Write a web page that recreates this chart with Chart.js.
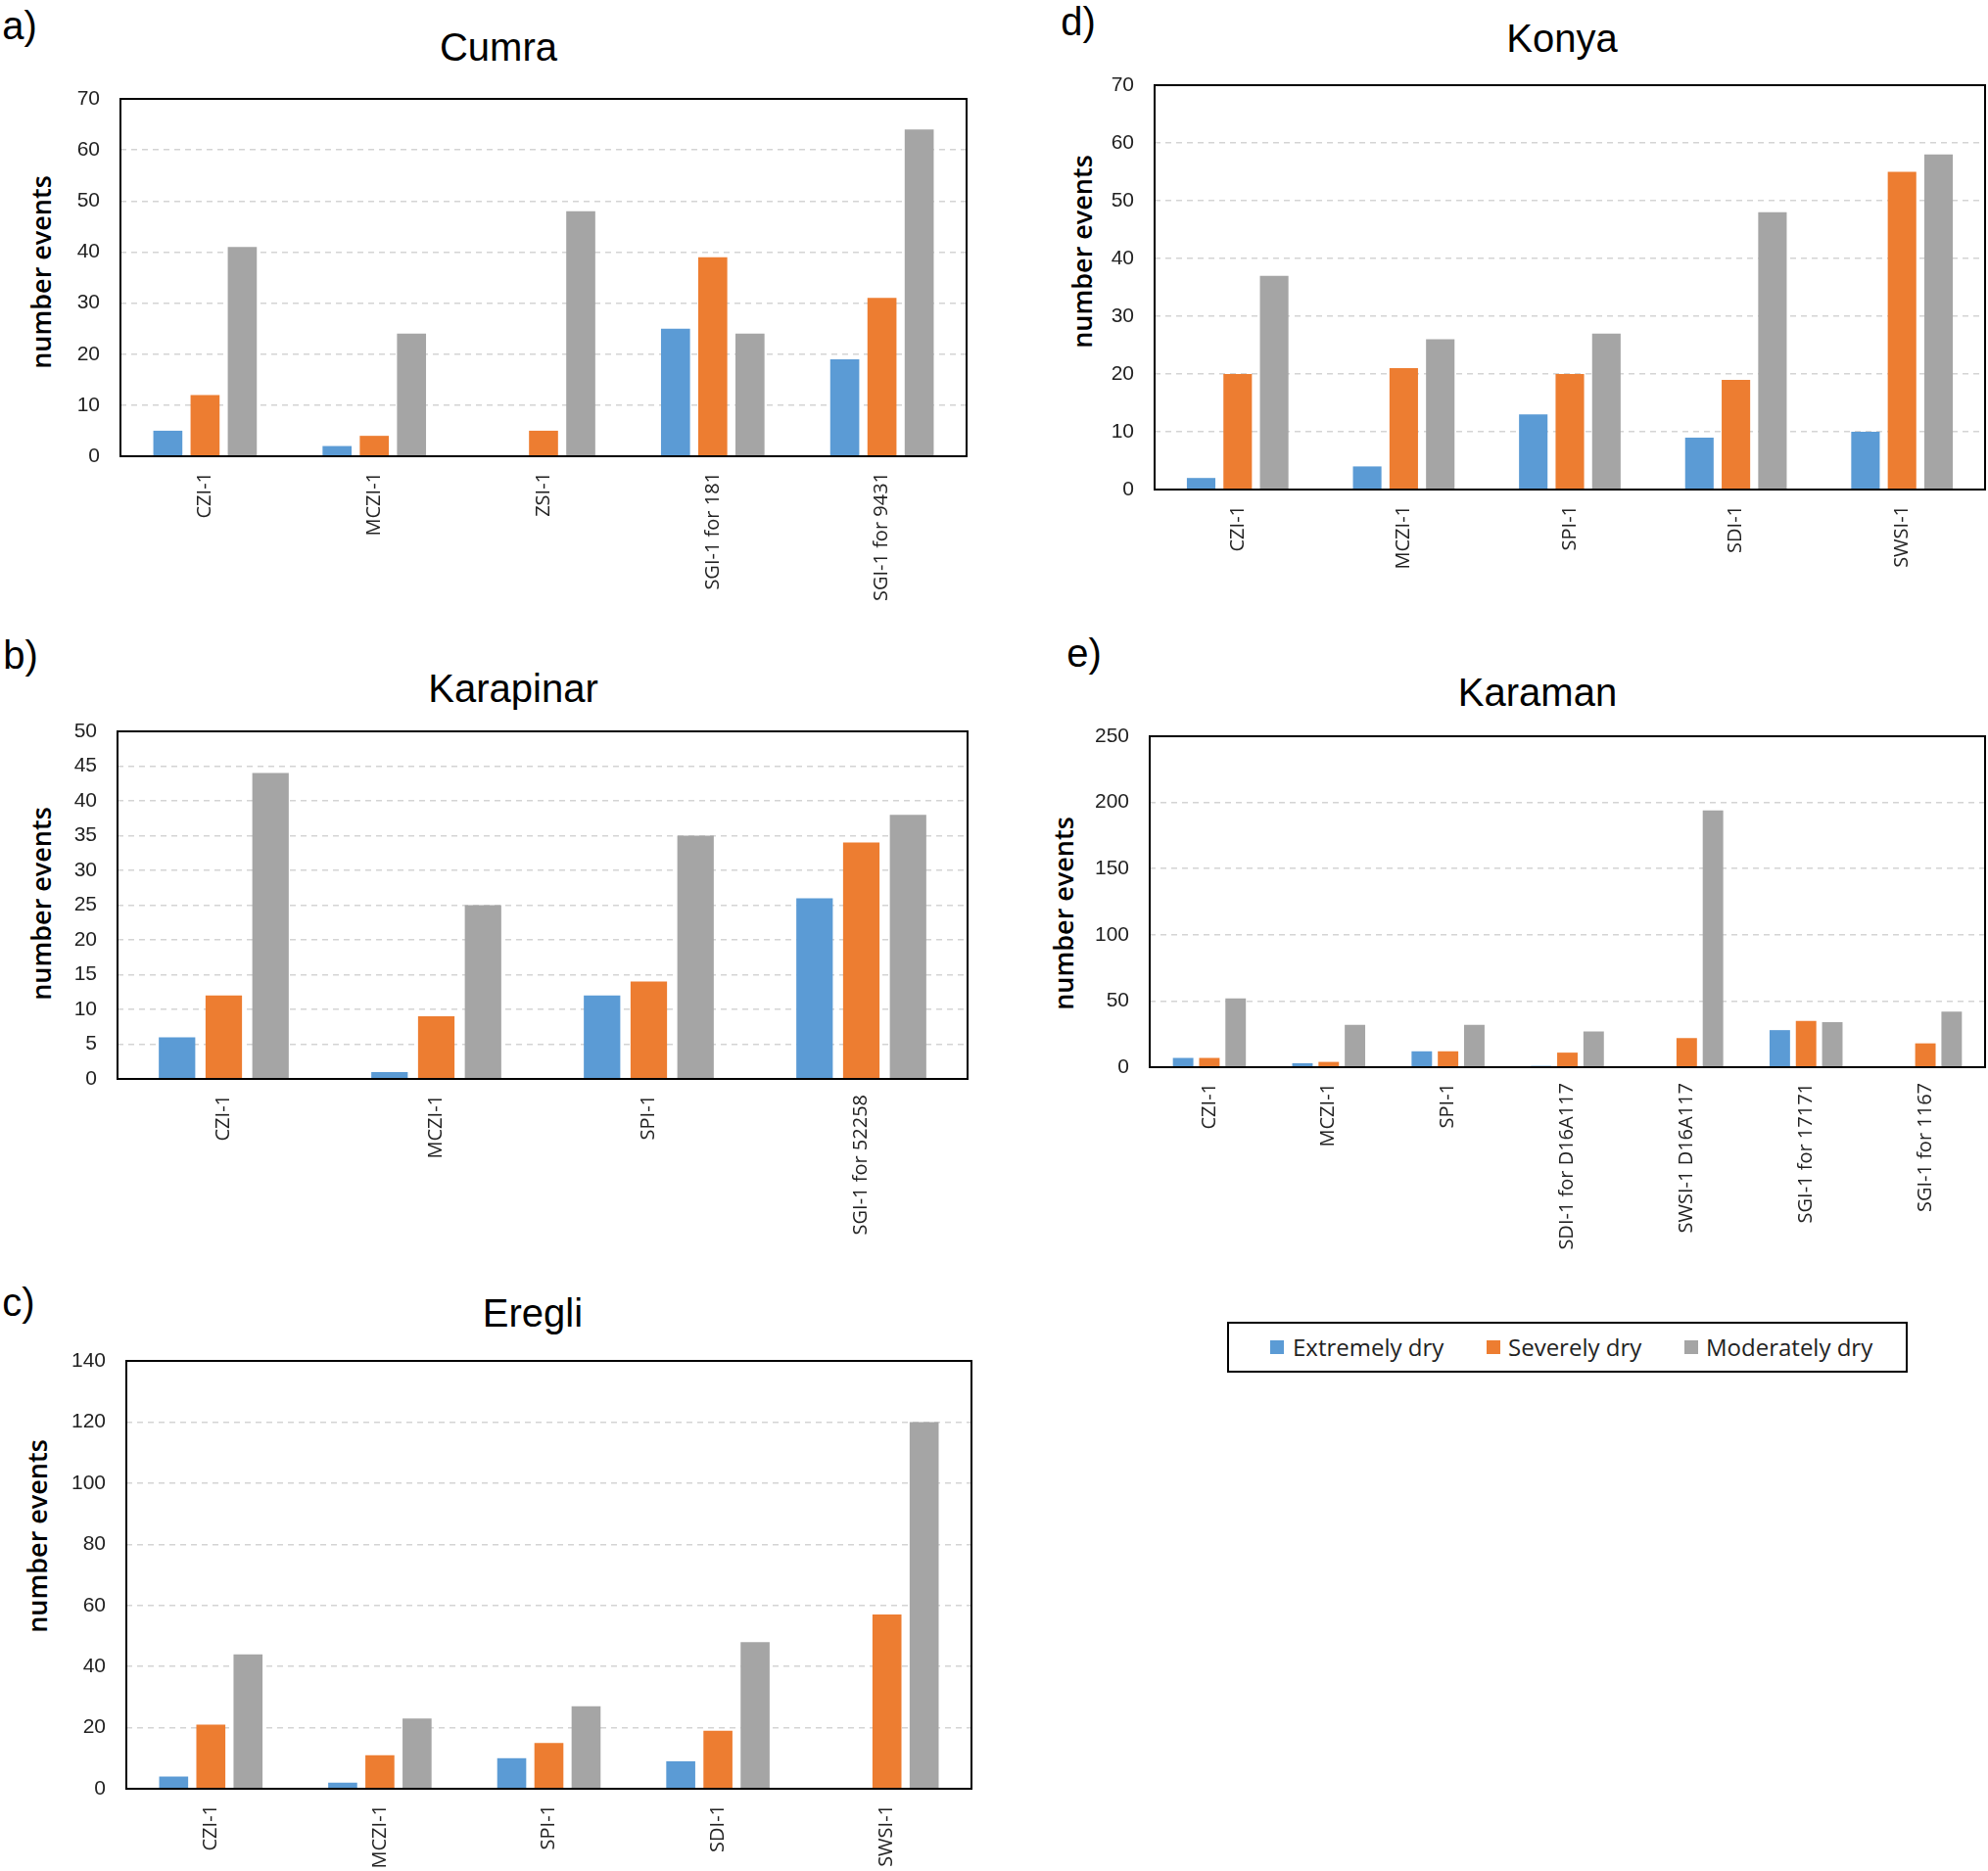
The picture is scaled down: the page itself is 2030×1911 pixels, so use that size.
<!DOCTYPE html>
<html><head><meta charset="utf-8">
<script src="https://cdn.jsdelivr.net/npm/chart.js@4.4.1/dist/chart.umd.min.js"></script>
<style>
html,body{margin:0;padding:0;background:#fff;width:2030px;height:1911px;overflow:hidden;}
body{position:relative;}
.box{position:absolute;}
.txt{position:absolute;font-family:"Liberation Sans",Arial,sans-serif;font-size:40px;color:#000;line-height:1;white-space:nowrap;transform:translate(-50%,-50%);}
.yt{position:absolute;font-family:"Open Sans",sans-serif;font-weight:600;font-size:27px;color:#000;line-height:1;white-space:nowrap;transform:translate(-50%,-50%) rotate(-90deg);}
#legend{position:absolute;left:1253px;top:1350px;width:691px;height:48px;border:2px solid #000;}
.sw{position:absolute;width:14px;height:14px;top:17px;}
.lt{position:absolute;top:24px;transform:translateY(-50%);font-family:"Open Sans",sans-serif;font-size:24px;color:#222;white-space:nowrap;line-height:1;}
</style>
</head><body>
<div class="txt" style="left:20px;top:26px">a)</div>
<div class="txt" style="left:509px;top:48px">Cumra</div>
<div class="txt" style="left:21px;top:669px">b)</div>
<div class="txt" style="left:524px;top:703px">Karapinar</div>
<div class="txt" style="left:19px;top:1330px">c)</div>
<div class="txt" style="left:544px;top:1341px">Eregli</div>
<div class="txt" style="left:1101px;top:22px">d)</div>
<div class="txt" style="left:1595px;top:39px">Konya</div>
<div class="txt" style="left:1107px;top:667px">e)</div>
<div class="txt" style="left:1570px;top:707px">Karaman</div>

<div class="yt" style="left:41px;top:278px">number events</div>
<div class="yt" style="left:41px;top:923px">number events</div>
<div class="yt" style="left:37px;top:1569px">number events</div>
<div class="yt" style="left:1104px;top:257px">number events</div>
<div class="yt" style="left:1085px;top:933px">number events</div>

<div class="box" style="left:0px;top:60px;width:990px;height:576px"><canvas id="cA"></canvas></div>
<div class="box" style="left:0px;top:640px;width:991px;height:632px"><canvas id="cB"></canvas></div>
<div class="box" style="left:0px;top:1280px;width:995px;height:631px"><canvas id="cC"></canvas></div>
<div class="box" style="left:1070px;top:0px;width:960px;height:670px"><canvas id="cD"></canvas></div>
<div class="box" style="left:1050px;top:680px;width:980px;height:610px"><canvas id="cE"></canvas></div>

<div id="legend"></div>

<script>
// ---- data ----
const seriesNames = ['Extremely dry', 'Severely dry', 'Moderately dry'];

const cumraCategories = ['CZI-1', 'MCZI-1', 'ZSI-1', 'SGI-1 for 181', 'SGI-1 for 9431'];
const cumraExtremely  = [5, 2, 0, 25, 19];
const cumraSeverely   = [12, 4, 5, 39, 31];
const cumraModerately = [41, 24, 48, 24, 64];
const cumraTicks = { max: 70, step: 10 };

const karapinarCategories = ['CZI-1', 'MCZI-1', 'SPI-1', 'SGI-1 for 52258'];
const karapinarExtremely  = [6, 1, 12, 26];
const karapinarSeverely   = [12, 9, 14, 34];
const karapinarModerately = [44, 25, 35, 38];
const karapinarTicks = { max: 50, step: 5 };

const eregliCategories = ['CZI-1', 'MCZI-1', 'SPI-1', 'SDI-1', 'SWSI-1'];
const eregliExtremely  = [4, 2, 10, 9, 0];
const eregliSeverely   = [21, 11, 15, 19, 57];
const eregliModerately = [44, 23, 27, 48, 120];
const eregliTicks = { max: 140, step: 20 };

const konyaCategories = ['CZI-1', 'MCZI-1', 'SPI-1', 'SDI-1', 'SWSI-1'];
const konyaExtremely  = [2, 4, 13, 9, 10];
const konyaSeverely   = [20, 21, 20, 19, 55];
const konyaModerately = [37, 26, 27, 48, 58];
const konyaTicks = { max: 70, step: 10 };

const karamanCategories = ['CZI-1', 'MCZI-1', 'SPI-1', 'SDI-1 for D16A117', 'SWSI-1 D16A117', 'SGI-1 for 17171', 'SGI-1 for 1167'];
const karamanExtremely  = [7, 3, 12, 1, 0, 28, 0];
const karamanSeverely   = [7, 4, 12, 11, 22, 35, 18];
const karamanModerately = [52, 32, 32, 27, 194, 34, 42];
const karamanTicks = { max: 250, step: 50 };

// ---- style ----
const colors = ['#5B9BD5', '#ED7D31', '#A5A5A5'];
Chart.defaults.devicePixelRatio = 1;
Chart.defaults.animation = false;

const frame = {
  id: 'frame',
  afterDatasetsDraw(chart) {
    const { ctx, chartArea: a } = chart;
    ctx.save();
    ctx.strokeStyle = '#000';
    ctx.lineWidth = 2;
    ctx.strokeRect(a.left, a.top, a.width, a.height);
    ctx.restore();
  }
};

function makeChart(id, cats, ext, sev, mod, ticks, geo) {
  const vals = [ext, sev, mod];
  new Chart(document.getElementById(id), {
    type: 'bar',
    data: {
      labels: cats,
      datasets: vals.map((v, i) => ({
        label: seriesNames[i], data: v, backgroundColor: colors[i], borderWidth: 0,
        categoryPercentage: 0.66, barPercentage: 0.78
      }))
    },
    options: {
      responsive: true, maintainAspectRatio: false,
      layout: { padding: { top: geo.padTop, right: geo.padRight, left: 0, bottom: 0 } },
      plugins: { legend: { display: false }, title: { display: false }, tooltip: { enabled: false } },
      scales: {
        x: {
          grid: { display: false, drawTicks: false },
          border: { display: false },
          ticks: { minRotation: 90, maxRotation: 90, autoSkip: false, padding: 16,
                   color: '#222', font: { family: 'Open Sans', size: 20 } },
          afterFit: s => { s.height = geo.xh; }
        },
        y: {
          min: 0, max: ticks.max,
          grid: { drawTicks: false, lineWidth: 1.5,
                  color: c => (c.tick.value === 0 || c.tick.value === ticks.max) ? 'rgba(0,0,0,0)' : '#D4D4D4' },
          border: { display: false, dash: [6, 5] },
          ticks: { stepSize: ticks.step, padding: 21, color: '#222',
                   font: { family: 'Liberation Sans', size: 21 } },
          afterFit: s => { s.width = geo.yw; }
        }
      }
    },
    plugins: [frame]
  });
}

makeChart('cA', cumraCategories, cumraExtremely, cumraSeverely, cumraModerately, cumraTicks,
  { padTop: 41, padRight: 3, xh: 170, yw: 123 });
makeChart('cB', karapinarCategories, karapinarExtremely, karapinarSeverely, karapinarModerately, karapinarTicks,
  { padTop: 107, padRight: 3, xh: 170, yw: 120 });
makeChart('cC', eregliCategories, eregliExtremely, eregliSeverely, eregliModerately, eregliTicks,
  { padTop: 110, padRight: 3, xh: 84, yw: 129 });
makeChart('cD', konyaCategories, konyaExtremely, konyaSeverely, konyaModerately, konyaTicks,
  { padTop: 87, padRight: 3, xh: 170, yw: 109 });
makeChart('cE', karamanCategories, karamanExtremely, karamanSeverely, karamanModerately, karamanTicks,
  { padTop: 72, padRight: 3, xh: 200, yw: 124 });

// ---- legend ----
const legend = document.getElementById('legend');
const legendPos = [[42, 65], [263, 285], [465, 487]];
seriesNames.forEach((n, i) => {
  const sw = document.createElement('div');
  sw.className = 'sw'; sw.style.left = legendPos[i][0] + 'px'; sw.style.background = colors[i];
  const t = document.createElement('div');
  t.className = 'lt'; t.style.left = legendPos[i][1] + 'px'; t.textContent = n;
  legend.appendChild(sw); legend.appendChild(t);
});
</script>
</body></html>
